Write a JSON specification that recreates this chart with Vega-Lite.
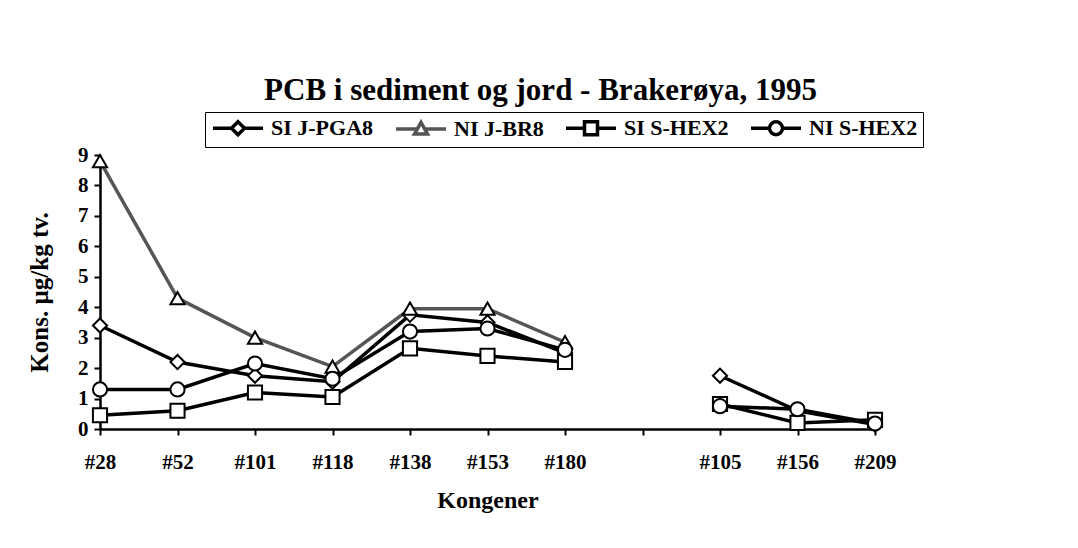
{
  "$schema": "https://vega.github.io/schema/vega-lite/v6.json",
  "width": 775,
  "height": 274,
  "autosize": {"type": "none"},
  "padding": {"left": 100, "top": 155, "right": 203, "bottom": 119},
  "background": "white",
  "config": {
    "view": {"stroke": null},
    "font": "Liberation Serif",
    "axis": {"grid": false, "domainColor": "black", "domainWidth": 2.5, "tickColor": "black", "tickWidth": 2, "tickSize": 6, "labelFont": "Liberation Serif", "labelFontWeight": "bold", "labelColor": "black", "titleFont": "Liberation Serif", "titleFontWeight": "bold", "titleColor": "black"}
  },
  "title": {"text": "PCB i sediment og jord - Brakerøya, 1995", "font": "Liberation Serif", "fontSize": 31, "fontWeight": "bold", "color": "black", "anchor": "middle", "dx": 53, "offset": 5},
  "data": {"values": [
    {"kongener": "#28", "serie": "SI J-PGA8", "del": 1, "verdi": 3.4},
    {"kongener": "#52", "serie": "SI J-PGA8", "del": 1, "verdi": 2.2},
    {"kongener": "#101", "serie": "SI J-PGA8", "del": 1, "verdi": 1.75},
    {"kongener": "#118", "serie": "SI J-PGA8", "del": 1, "verdi": 1.55},
    {"kongener": "#138", "serie": "SI J-PGA8", "del": 1, "verdi": 3.75},
    {"kongener": "#153", "serie": "SI J-PGA8", "del": 1, "verdi": 3.5},
    {"kongener": "#180", "serie": "SI J-PGA8", "del": 1, "verdi": 2.5},
    {"kongener": "#105", "serie": "SI J-PGA8", "del": 2, "verdi": 1.75},
    {"kongener": "#156", "serie": "SI J-PGA8", "del": 2, "verdi": 0.6},
    {"kongener": "#209", "serie": "SI J-PGA8", "del": 2, "verdi": 0.15},
    {"kongener": "#28", "serie": "NI J-BR8", "del": 1, "verdi": 8.8},
    {"kongener": "#52", "serie": "NI J-BR8", "del": 1, "verdi": 4.3},
    {"kongener": "#101", "serie": "NI J-BR8", "del": 1, "verdi": 3.0},
    {"kongener": "#118", "serie": "NI J-BR8", "del": 1, "verdi": 2.05},
    {"kongener": "#138", "serie": "NI J-BR8", "del": 1, "verdi": 3.95},
    {"kongener": "#153", "serie": "NI J-BR8", "del": 1, "verdi": 3.95},
    {"kongener": "#180", "serie": "NI J-BR8", "del": 1, "verdi": 2.85},
    {"kongener": "#28", "serie": "SI S-HEX2", "del": 1, "verdi": 0.45},
    {"kongener": "#52", "serie": "SI S-HEX2", "del": 1, "verdi": 0.6},
    {"kongener": "#101", "serie": "SI S-HEX2", "del": 1, "verdi": 1.2},
    {"kongener": "#118", "serie": "SI S-HEX2", "del": 1, "verdi": 1.05},
    {"kongener": "#138", "serie": "SI S-HEX2", "del": 1, "verdi": 2.65},
    {"kongener": "#153", "serie": "SI S-HEX2", "del": 1, "verdi": 2.4},
    {"kongener": "#180", "serie": "SI S-HEX2", "del": 1, "verdi": 2.2},
    {"kongener": "#105", "serie": "SI S-HEX2", "del": 2, "verdi": 0.82},
    {"kongener": "#156", "serie": "SI S-HEX2", "del": 2, "verdi": 0.2},
    {"kongener": "#209", "serie": "SI S-HEX2", "del": 2, "verdi": 0.3},
    {"kongener": "#28", "serie": "NI S-HEX2", "del": 1, "verdi": 1.3},
    {"kongener": "#52", "serie": "NI S-HEX2", "del": 1, "verdi": 1.3},
    {"kongener": "#101", "serie": "NI S-HEX2", "del": 1, "verdi": 2.15},
    {"kongener": "#118", "serie": "NI S-HEX2", "del": 1, "verdi": 1.65},
    {"kongener": "#138", "serie": "NI S-HEX2", "del": 1, "verdi": 3.2},
    {"kongener": "#153", "serie": "NI S-HEX2", "del": 1, "verdi": 3.3},
    {"kongener": "#180", "serie": "NI S-HEX2", "del": 1, "verdi": 2.6},
    {"kongener": "#105", "serie": "NI S-HEX2", "del": 2, "verdi": 0.75},
    {"kongener": "#156", "serie": "NI S-HEX2", "del": 2, "verdi": 0.65},
    {"kongener": "#209", "serie": "NI S-HEX2", "del": 2, "verdi": 0.18}
  ]},
  "encoding": {
    "x": {
      "field": "kongener", "type": "nominal",
      "scale": {"type": "point", "padding": 0, "domain": ["#28", "#52", "#101", "#118", "#138", "#153", "#180", " ", "#105", "#156", "#209"]},
      "axis": {"title": "Kongener", "labelAngle": 0, "labelFontSize": 21, "labelPadding": 16, "titleFontSize": 24, "titlePadding": 16}
    },
    "y": {
      "field": "verdi", "type": "quantitative",
      "scale": {"domain": [0, 9], "nice": false, "zero": true},
      "axis": {"title": "Kons. µg/kg tv.", "values": [0, 1, 2, 3, 4, 5, 6, 7, 8, 9], "labelFontSize": 21, "labelPadding": 6, "titleFontSize": 25, "titlePadding": 25}
    }
  },
  "layer": [
    {
      "mark": {"type": "line", "strokeWidth": 3.5},
      "encoding": {
        "stroke": {"field": "serie", "type": "nominal", "scale": {"domain": ["SI J-PGA8", "NI J-BR8", "SI S-HEX2", "NI S-HEX2"], "range": ["black", "#555555", "black", "black"]},
          "legend": {
            "title": null, "orient": "none", "legendX": 105, "legendY": -43, "direction": "horizontal",
            "strokeColor": "black", "padding": 5, "fillColor": "white",
            "labelFont": "Liberation Serif", "labelFontWeight": "bold", "labelFontSize": 22, "labelColor": "black",
            "symbolSize": 169, "symbolOffset": 17, "labelOffset": 22, "columnPadding": 14,
            "symbolOpacity": 1, "symbolFillColor": "white", "symbolStrokeWidth": 3.5
          }
        },
        "detail": {"field": "del", "type": "nominal"}
      }
    },
    {
      "mark": {"type": "point", "filled": true, "fill": "white", "stroke": "black", "strokeWidth": 3, "size": 169, "opacity": 0},
      "encoding": {
        "shape": {
          "field": "serie", "type": "nominal",
          "scale": {"domain": ["SI J-PGA8", "NI J-BR8", "SI S-HEX2", "NI S-HEX2"], "range": ["M-3.85,0L-1,0M1,0L3.85,0M0,-1L1,0L0,1L-1,0Z", "M-3.85,0L-0.55,0M0.55,0L3.85,0M0,-1L1,0.8L-1,0.8Z", "M-3.85,0L-1,0M1,0L3.85,0M-1,-1L1,-1L1,1L-1,1Z", "M-3.85,0L-1,0M1,0L3.85,0M-1,0A1,1 0 1,1 1,0A1,1 0 1,1 -1,0Z"]}
        }
      }
    },
    {
      "transform": [{"filter": "datum.serie === 'SI J-PGA8'"}],
      "mark": {"type": "point", "shape": "diamond", "filled": true, "fill": "white", "stroke": "black", "strokeWidth": 2, "size": 200, "opacity": 1}
    },
    {
      "transform": [{"filter": "datum.serie === 'NI J-BR8'"}],
      "mark": {"type": "point", "shape": "triangle-up", "filled": true, "fill": "white", "stroke": "black", "strokeWidth": 2, "size": 200, "opacity": 1}
    },
    {
      "transform": [{"filter": "datum.serie === 'SI S-HEX2'"}],
      "mark": {"type": "point", "shape": "square", "filled": true, "fill": "white", "stroke": "black", "strokeWidth": 2, "size": 200, "opacity": 1}
    },
    {
      "transform": [{"filter": "datum.serie === 'NI S-HEX2'"}],
      "mark": {"type": "point", "shape": "circle", "filled": true, "fill": "white", "stroke": "black", "strokeWidth": 2, "size": 200, "opacity": 1}
    }
  ]
}
